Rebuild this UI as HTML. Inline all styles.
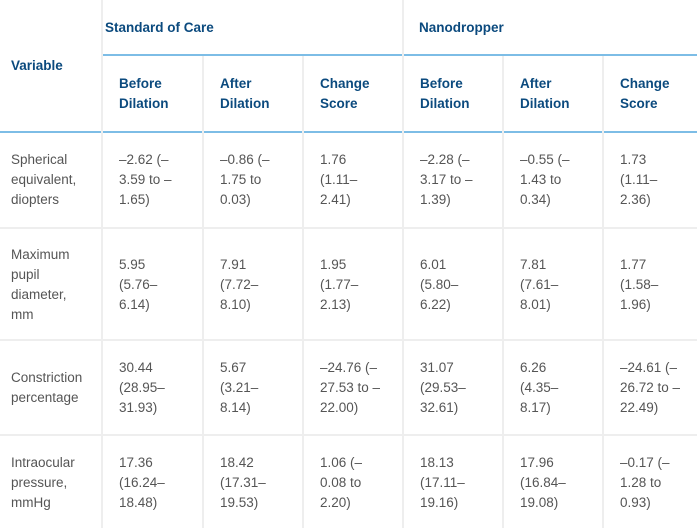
<!DOCTYPE html>
<html><head><meta charset="utf-8"><style>
body{margin:0;background:#fff;width:697px;height:528px;overflow:hidden;position:relative;font-family:"Liberation Sans",Arial,sans-serif}
.c{position:absolute;display:flex;align-items:center;font-size:13.5px;line-height:20px;color:#555}
.h{color:#0b4a7e;font-weight:bold;font-size:13.5px}
.v{position:absolute;width:2px;background:#eeeeee}
.hl{position:absolute;height:2px}
</style></head><body>
<div class="hl" style="left:101px;top:54px;width:596px;background:#7dbde6"></div>
<div class="hl" style="left:0;top:131px;width:697px;background:#7dbde6"></div>
<div class="hl" style="left:0;top:227px;width:697px;background:#eee"></div>
<div class="hl" style="left:0;top:339px;width:697px;background:#eee"></div>
<div class="hl" style="left:0;top:434px;width:697px;background:#eee"></div>
<div id="vl"></div>
<div class="c h" style="left:11px;top:0;height:132px">Variable</div>
<div class="c h" style="left:105px;top:0;height:56px">Standard of Care</div>
<div class="c h" style="left:419px;top:0;height:56px">Nanodropper</div>
<div id="t"></div>
<script>
const vx=[101,202,302,402,502,602];
const vl=document.getElementById('vl');
vx.forEach((x,i)=>{const d=document.createElement('div');d.className='v';


d.style.left=x+'px';d.style.top=(i==0||i==3?0:56)+'px';d.style.height=(528-(i==0||i==3?0:56))+'px';vl.appendChild(d);});
const subs=['Before<br>Dilation','After<br>Dilation','Change<br>Score','Before<br>Dilation','After<br>Dilation','Change<br>Score'];
const vars=['Spherical<br>equivalent,<br>diopters','Maximum<br>pupil<br>diameter,<br>mm','Constriction<br>percentage','Intraocular<br>pressure,<br>mmHg'];
const cells=[
['–2.62 (–<br>3.59 to –<br>1.65)','–0.86 (–<br>1.75 to<br>0.03)','1.76<br>(1.11–<br>2.41)','–2.28 (–<br>3.17 to –<br>1.39)','–0.55 (–<br>1.43 to<br>0.34)','1.73<br>(1.11–<br>2.36)'],
['5.95<br>(5.76–<br>6.14)','7.91<br>(7.72–<br>8.10)','1.95<br>(1.77–<br>2.13)','6.01<br>(5.80–<br>6.22)','7.81<br>(7.61–<br>8.01)','1.77<br>(1.58–<br>1.96)'],
['30.44<br>(28.95–<br>31.93)','5.67<br>(3.21–<br>8.14)','–24.76 (–<br>27.53 to –<br>22.00)','31.07<br>(29.53–<br>32.61)','6.26<br>(4.35–<br>8.17)','–24.61 (–<br>26.72 to –<br>22.49)'],
['17.36<br>(16.24–<br>18.48)','18.42<br>(17.31–<br>19.53)','1.06 (–<br>0.08 to<br>2.20)','18.13<br>(17.11–<br>19.16)','17.96<br>(16.84–<br>19.08)','–0.17 (–<br>1.28 to<br>0.93)']];
const rows=[[132,228],[228,342],[340,436],[435,531]];
const t=document.getElementById('t');
function mk(html,x,y,h,cls,name){const d=document.createElement('div');d.className=cls;d.innerHTML=html;


d.style.left=x+'px';d.style.top=y+'px';d.style.height=h+'px';t.appendChild(d);}
subs.forEach((s,i)=>mk(s,vx[i]+18,56,76,'c h','subheader'));
rows.forEach((r,ri)=>{mk(vars[ri],11,r[0],r[1]-r[0],'c','variable-cell');
cells[ri].forEach((s,i)=>mk(s,vx[i]+18,r[0],r[1]-r[0],'c','value-cell'));});
</script>
</body></html>
